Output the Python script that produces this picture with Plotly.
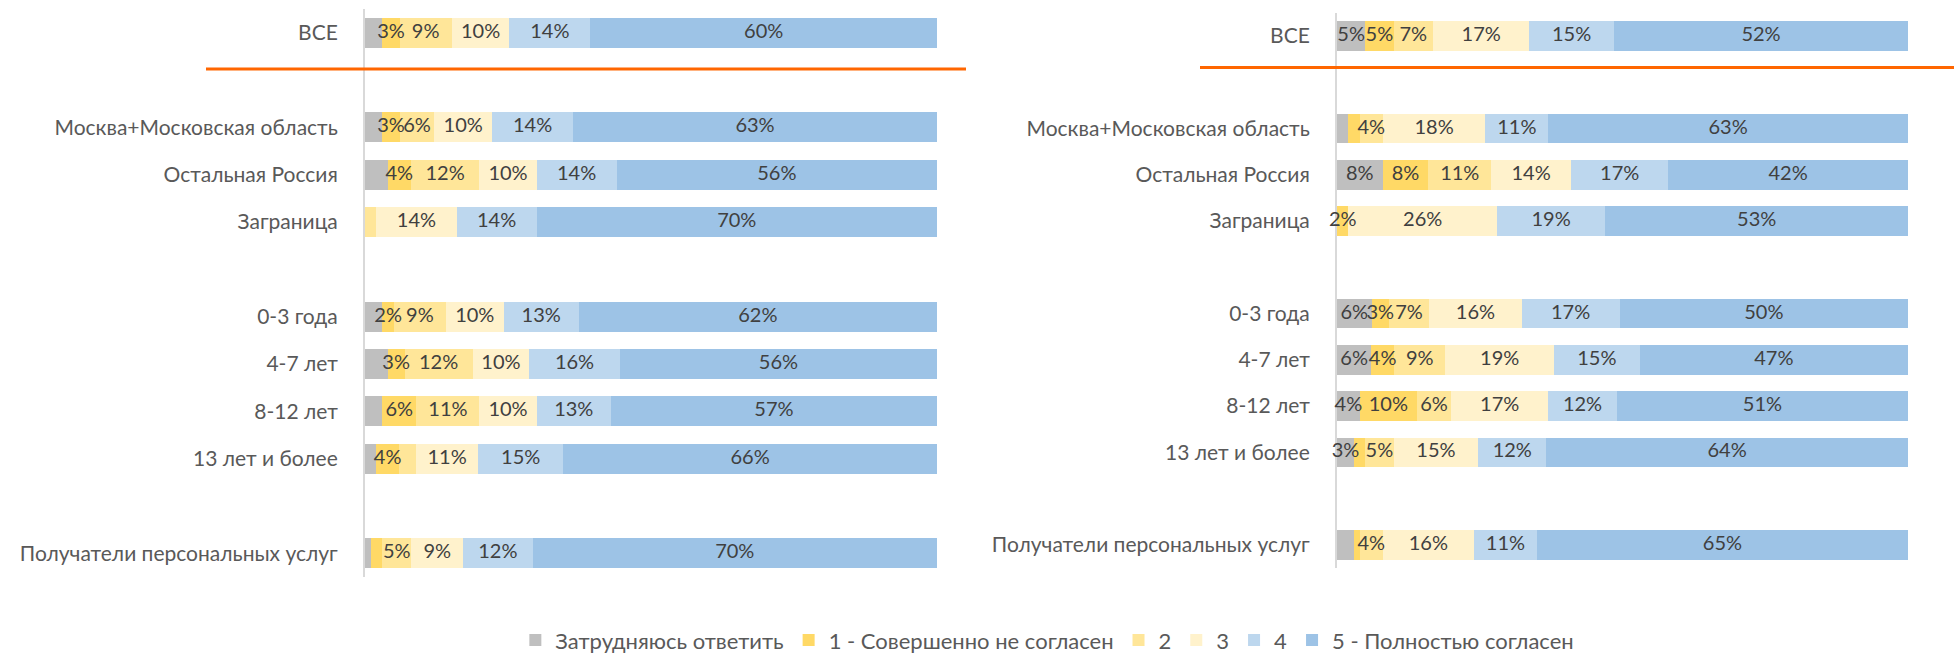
import plotly.graph_objects as go

# ---------------- data ----------------
categories = ["ВСЕ", "Москва+Московская область", "Остальная Россия", "Заграница",
              "0-3 года", "4-7 лет", "8-12 лет", "13 лет и более",
              "Получатели персональных услуг"]

series_names = ["Затрудняюсь ответить", "1 - Совершенно не согласен", "2", "3", "4",
                "5 - Полностью согласен"]

# left panel
left_hard = [3, 3, 4, 0, 3, 4, 3, 2, 1]
left_1 = [3, 3, 4, 0, 2, 3, 6, 4, 2]
left_2 = [9, 6, 12, 2, 9, 12, 11, 3, 5]
left_3 = [10, 10, 10, 14, 10, 10, 10, 11, 9]
left_4 = [14, 14, 14, 14, 13, 16, 13, 15, 12]
left_5 = [60, 63, 56, 70, 62, 56, 57, 66, 70]

# right panel
right_hard = [5, 2, 8, 0, 6, 6, 4, 3, 3]
right_1 = [5, 2, 8, 2, 3, 4, 10, 2, 1]
right_2 = [7, 4, 11, 0, 7, 9, 6, 5, 4]
right_3 = [17, 18, 14, 26, 16, 19, 17, 15, 16]
right_4 = [15, 11, 17, 19, 17, 15, 12, 12, 11]
right_5 = [52, 63, 42, 53, 50, 47, 51, 64, 65]

# labels that are not shown in the original (series index -> rows)
left_hidden = {0: categories[:], 1: ["Получатели персональных услуг"],
               2: ["Заграница", "13 лет и более"]}
right_hidden = {0: ["Москва+Московская область", "Получатели персональных услуг"],
                1: ["Москва+Московская область", "13 лет и более",
                    "Получатели персональных услуг"]}

# ---------------- styles ----------------
colors = ["#BFBFBF", "#FFD966", "#FFE699", "#FFF2CC", "#BDD7EE", "#9DC3E6"]
FONT = "Lato"
LABEL_SIZE = 20
TICK_SIZE = 21
LEGEND_SIZE = 22
TICK_COLOR = "#595959"
TEXT_COLOR = "#404040"
AXIS_LINE = "#D9D9D9"
ORANGE = "#FF6600"

# spacer slots between groups (layout only)
order = ["ВСЕ", " ", "Москва+Московская область", "Остальная Россия", "Заграница", "  ",
         "0-3 года", "4-7 лет", "8-12 лет", "13 лет и более", "   ",
         "Получатели персональных услуг"]

left_series = [left_hard, left_1, left_2, left_3, left_4, left_5]
right_series = [right_hard, right_1, right_2, right_3, right_4, right_5]

fig = go.Figure()
for panel, (series, hidden) in enumerate([(left_series, left_hidden),
                                          (right_series, right_hidden)]):
    xa = "x" if panel == 0 else "x2"
    ya = "y" if panel == 0 else "y2"
    for i, (name, vals) in enumerate(zip(series_names, series)):
        fig.add_trace(go.Bar(
            y=categories, x=vals, name=name, orientation="h",
            marker=dict(color=colors[i], line=dict(width=0)),
            textposition="none",
            showlegend=(panel == 0),
            xaxis=xa, yaxis=ya, hoverinfo="skip",
        ))
    # data labels at the centre of each (normalised) segment
    totals = [sum(s[r] for s in series) for r in range(len(categories))]
    for i, vals in enumerate(series):
        xs, ys, ts = [], [], []
        for r, c in enumerate(categories):
            v = vals[r]
            if v == 0 or c in hidden.get(i, []):
                continue
            before = sum(series[k][r] for k in range(i))
            xs.append((before + v / 2) / totals[r] * 100)
            ys.append(c)
            ts.append(f"{v}%")
        fig.add_trace(go.Scatter(
            x=xs, y=ys, text=ts, mode="text", textposition="middle center",
            textfont=dict(family=FONT, size=LABEL_SIZE, color=TEXT_COLOR),
            cliponaxis=False, showlegend=False, hoverinfo="skip",
            xaxis=xa, yaxis=ya,
        ))

W, H = 1954, 656
yaxis_common = dict(
    type="category", categoryorder="array", categoryarray=order,
    range=[len(order) - 0.5, -0.5],
    showline=True, linecolor=AXIS_LINE, linewidth=2, layer="below traces",
    ticks="outside", ticklen=21, tickcolor="rgba(0,0,0,0)",
    tickfont=dict(family=FONT, size=TICK_SIZE, color=TICK_COLOR),
    showgrid=False, zeroline=False, automargin=False, fixedrange=True,
)
xaxis_common = dict(range=[0, 100], visible=False, showgrid=False, zeroline=False,
                    fixedrange=True)

fig.update_layout(
    width=W, height=H,
    margin=dict(l=0, r=0, t=0, b=0, autoexpand=False),
    paper_bgcolor="white", plot_bgcolor="white",
    barmode="stack", barnorm="percent", bargap=0.36,
    font=dict(family=FONT, color=TICK_COLOR),
    xaxis=dict(domain=[365 / W, 937 / W], anchor="y", **xaxis_common),
    yaxis=dict(domain=[1 - 577 / H, 1 - 9 / H], anchor="x", **yaxis_common),
    xaxis2=dict(domain=[1337 / W, 1908 / W], anchor="y2", **xaxis_common),
    yaxis2=dict(domain=[1 - 568 / H, 1 - 13 / H], anchor="x2", **yaxis_common),
    legend=dict(orientation="h", x=0.536, xanchor="center", y=-0.008, yanchor="bottom",
                font=dict(family=FONT, size=LEGEND_SIZE, color=TICK_COLOR),
                traceorder="normal", itemclick=False, itemdoubleclick=False),
    shapes=[
        dict(type="line", xref="paper", yref="paper", x0=206 / W, x1=966 / W,
             y0=1 - 69 / H, y1=1 - 69 / H, line=dict(color=ORANGE, width=3)),
        dict(type="line", xref="paper", yref="paper", x0=1200 / W, x1=1.0,
             y0=1 - 67.5 / H, y1=1 - 67.5 / H, line=dict(color=ORANGE, width=3)),
    ],
)

fig.write_html("out.html")
